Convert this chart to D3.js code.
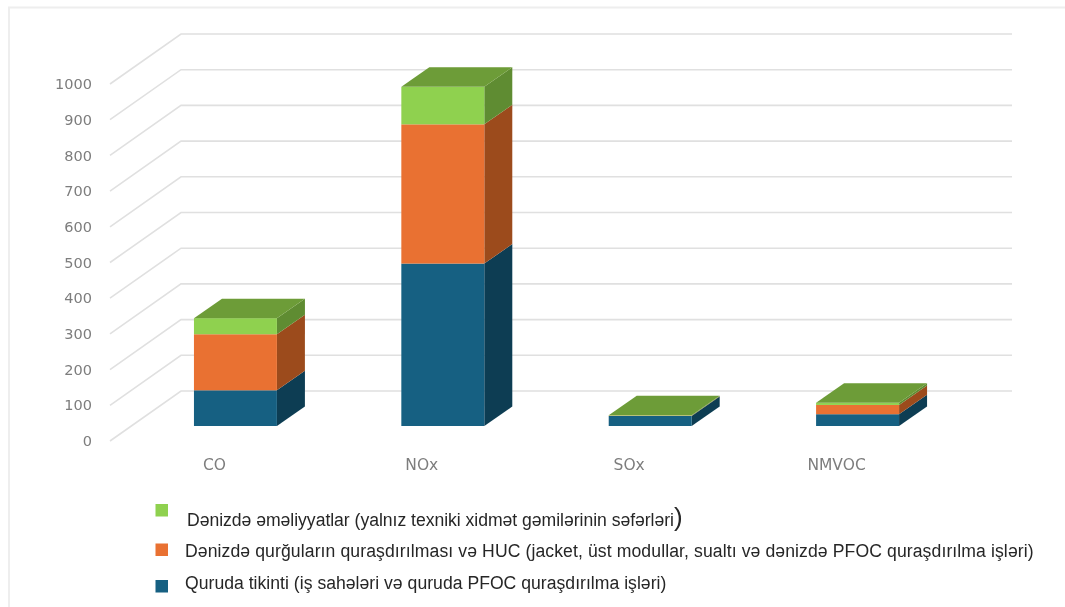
<!DOCTYPE html>
<html>
<head>
<meta charset="utf-8">
<script src="https://cdn.jsdelivr.net/npm/d3@7"></script>
<style>
	html, body { margin: 0; padding: 0; background: #fff; }
	svg { display: block; }
</style>
</head>
<body>
<div id="chart"></div>
<script>
const categories = ['CO', 'NOx', 'SOx', 'NMVOC'];
const quruda = [100, 455, 28, 33];
const denizQurgu = [157, 390, 1, 26];
const denizEmeliyyat = [45, 105, 1, 6];
const yTicks = [0, 100, 200, 300, 400, 500, 600, 700, 800, 900, 1000];

const seriesNames = [
	'Quruda tikinti (iş sahələri və quruda PFOC quraşdırılma işləri)',
	'Dənizdə qurğuların quraşdırılması və HUC (jacket, üst modullar, sualtı və dənizdə PFOC quraşdırılma işləri)',
	'Dənizdə əməliyyatlar (yalnız texniki xidmət gəmilərinin səfərləri'
];
const frontColors = ['#156082', '#e97132', '#8fd14f'];
const sideColors = ['#0d3d53', '#9c4c1f', '#5f8c30'];
const topColor = '#6d9c37';

const width = 1065;
const height = 607;

const svg = d3.select('#chart')
	.append('svg')
	.attr('width', width)
	.attr('height', height);

// slight softness, the original is an upscaled screenshot
svg.append('filter')
	.attr('id', 'soft')
	.append('feGaussianBlur')
	.attr('stdDeviation', 0.5);

const root = svg.append('g').attr('filter', 'url(#soft)');

// faint frame left over at the top and left of the screenshot
root.append('path')
	.attr('d', d3.line()([[9, height], [9, 7.5], [width, 7.5]]))
	.attr('fill', 'none')
	.attr('stroke', '#eeeeee')
	.attr('stroke-width', 2);

// y is the front plane of the axis, the bars stand a bit further back
const yScale = d3.scaleLinear().domain([0, 1000]).range([441, 84]);
const xScale = d3.scaleBand()
	.domain(categories)
	.range([131.75, 961.25])
	.paddingInner(0.6)
	.paddingOuter(0.3);

const wallDx = 71, wallDy = -50;
const barRise = 15;
const depthDx = 28, depthDy = -19.5;
const gridRight = 1012;

// gridlines, floor part then back wall part
root.append('g')
	.selectAll('path')
	.data(yTicks)
	.join('path')
	.attr('d', d => d3.line()([
		[110, yScale(d)],
		[110 + wallDx, yScale(d) + wallDy],
		[gridRight, yScale(d) + wallDy]
	]))
	.attr('fill', 'none')
	.attr('stroke', '#e0e0e0')
	.attr('stroke-width', 1.6);

const yAxis = root.append('g')
	.attr('transform', 'translate(92,0)')
	.call(d3.axisLeft(yScale).tickValues(yTicks).tickSize(0).tickFormat(d3.format('d')));
yAxis.select('.domain').remove();
yAxis.selectAll('text')
	.attr('x', 0)
	.attr('fill', '#7d7d7d')
	.style('font-family', 'DejaVu Sans')
	.style('font-size', '14.5px');

// stack bottom to top
const rows = categories.map((c, i) => ({
	category: c,
	s0: quruda[i],
	s1: denizQurgu[i],
	s2: denizEmeliyyat[i]
}));
const stacked = d3.stack().keys(['s0', 's1', 's2'])(rows);

const barY = v => yScale(v) - barRise;

const poly = pts => d3.line()(pts) + 'Z';

stacked.forEach((layer, si) => {
	const g = root.append('g');

	g.selectAll('path.side')
		.data(layer)
		.join('path')
		.attr('class', 'side')
		.attr('fill', sideColors[si])
		.attr('d', d => {
			const x1 = xScale(d.data.category) + xScale.bandwidth();
			return poly([
				[x1, barY(d[0])],
				[x1 + depthDx, barY(d[0]) + depthDy],
				[x1 + depthDx, barY(d[1]) + depthDy],
				[x1, barY(d[1])]
			]);
		});

	g.selectAll('rect')
		.data(layer)
		.join('rect')
		.attr('x', d => xScale(d.data.category))
		.attr('width', xScale.bandwidth())
		.attr('y', d => barY(d[1]))
		.attr('height', d => barY(d[0]) - barY(d[1]))
		.attr('fill', frontColors[si]);
});

// only the top series gets a lid
root.append('g')
	.selectAll('path')
	.data(stacked[2])
	.join('path')
	.attr('fill', topColor)
	.attr('d', d => {
		const x0 = xScale(d.data.category);
		const x1 = x0 + xScale.bandwidth();
		const y = barY(d[1]);
		return poly([
			[x0, y],
			[x0 + depthDx, y + depthDy],
			[x1 + depthDx, y + depthDy],
			[x1, y]
		]);
	});

root.append('g')
	.selectAll('text')
	.data(categories)
	.join('text')
	.attr('x', d => xScale(d) + xScale.bandwidth() / 2 - 21)
	.attr('y', 470)
	.attr('text-anchor', 'middle')
	.attr('fill', '#7d7d7d')
	.style('font-family', 'DejaVu Sans')
	.style('font-size', '15.5px')
	.text(d => d);

// legend, top item first
const legendY = d3.scalePoint().domain([2, 1, 0]).range([510, 586]);
const legend = root.append('g')
	.selectAll('g')
	.data([2, 1, 0])
	.join('g');

legend.append('rect')
	.attr('x', 155.5)
	.attr('y', d => legendY(d) - 6 - (d === 1 ? -1.5 : 0))
	.attr('width', 12.5)
	.attr('height', 12.5)
	.attr('fill', d => frontColors[d]);

const legendText = legend.append('text')
	.attr('x', d => d === 2 ? 187 : 185)
	.attr('y', d => [589, 556.5, 526][d])
	.attr('fill', '#262626')
	.style('font-family', 'Liberation Sans')
	.style('font-size', '17.6px')
	.style('letter-spacing', d => d === 1 ? '0.1px' : (d === 2 ? '-0.03px' : '0.02px'))
	.text(d => seriesNames[d]);

// the closing bracket is oversized in the original
legendText.filter(d => d === 2)
	.append('tspan')
	.style('font-size', '26px')
	.text(')');
</script>
</body>
</html>
